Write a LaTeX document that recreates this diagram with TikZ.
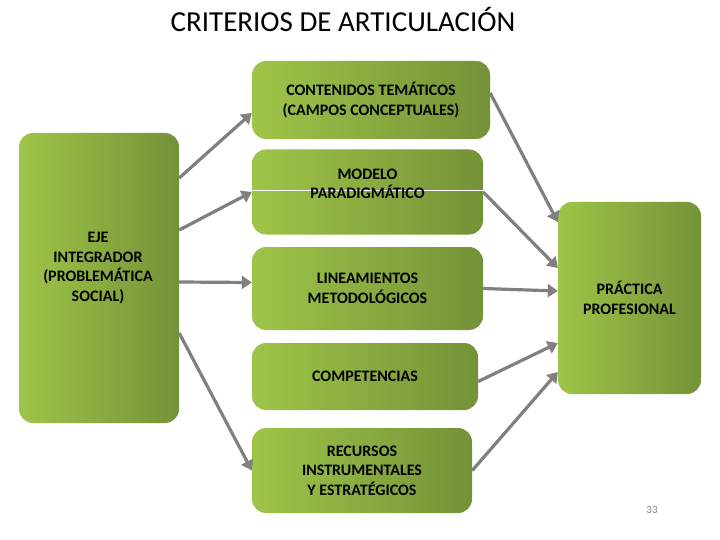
\documentclass[tikz,border=0pt]{standalone}
\usepackage{fontspec}
\setmainfont{Carlito}
\usetikzlibrary{arrows.meta}
\definecolor{boxlight}{RGB}{158,197,72}
\definecolor{boxdark}{RGB}{116,146,56}
\definecolor{linkgray}{RGB}{128,128,128}
\tikzset{
  critbox/.style={rectangle, rounded corners=14pt, left color=boxlight, right color=boxdark,
    align=center, inner sep=0pt, font=\bfseries\fontsize{16}{19.5}\selectfont},
  boxtext/.style={align=center, inner sep=0pt, font=\bfseries\fontsize{16}{19.5}\selectfont},
  link/.style={linkgray, line width=3.2pt, -{Triangle[length=10pt,width=13pt]}}
}
\begin{document}
\begin{tikzpicture}[x=1pt,y=-1pt]
\useasboundingbox (0,0) rectangle (720,540);

% Title
\node[font=\fontsize{29}{33}\selectfont] (title) at (343,20) {CRITERIOS DE ARTICULACIÓN};

% Left box
\node[critbox, minimum width=160pt, minimum height=290pt] (eje) at (99,278) {};
\node[boxtext] (ejetext) at (98,268) {EJE\\INTEGRADOR\\(PROBLEMÁTICA\\SOCIAL)};

% Middle boxes
\node[critbox, minimum width=238pt, minimum height=78pt] (contenidos) at (371,100)
  {CONTENIDOS TEMÁTICOS\\(CAMPOS CONCEPTUALES)};
\node[critbox, minimum width=231pt, minimum height=85pt] (modelo) at (367.5,192) {};
\draw[white, line width=0.7pt] ([yshift=2pt]modelo.west) -- ([yshift=2pt]modelo.east);
\node[boxtext] (modelotext) at (367.5,184) {MODELO\\PARADIGMÁTICO};
\node[critbox, minimum width=231pt, minimum height=83pt] (lineamientos) at (367.5,288.5)
  {LINEAMIENTOS\\METODOLÓGICOS};
\node[critbox, minimum width=226pt, minimum height=67pt] (competencias) at (365,376.5)
  {COMPETENCIAS};
\node[critbox, minimum width=220pt, minimum height=85pt] (recursos) at (362,470.5)
  {RECURSOS\\INSTRUMENTALES\\Y ESTRATÉGICOS};

% Right box
\node[critbox, minimum width=143pt, minimum height=192pt] (practica) at (629.5,298)
  {PRÁCTICA\\PROFESIONAL};

% Arrows from the left box
\draw[link] ([yshift=100pt]eje.east) -- ([yshift=-13pt]contenidos.west);
\draw[link] ([yshift=48pt]eje.east) -- (modelo.west);
\draw[link] ([yshift=-4pt]eje.east) -- ([yshift=6pt]lineamientos.west);
\draw[link] ([yshift=-55pt]eje.east) -- (recursos.west);

% Arrows to the right box
\draw[link] ([yshift=7pt]contenidos.east) -- ([yshift=76pt]practica.west);
\draw[link] (modelo.east) -- ([yshift=30pt]practica.west);
\draw[link] (lineamientos.east) -- ([yshift=7pt]practica.west);
\draw[link] ([yshift=-5pt]competencias.east) -- ([yshift=-45pt]practica.west);
\draw[link] (recursos.east) -- ([yshift=-74pt]practica.west);

% Page number
\node[font=\fontsize{11}{13}\selectfont, text=gray] (pagenum) at (652,510) {33};
\end{tikzpicture}
\end{document}
